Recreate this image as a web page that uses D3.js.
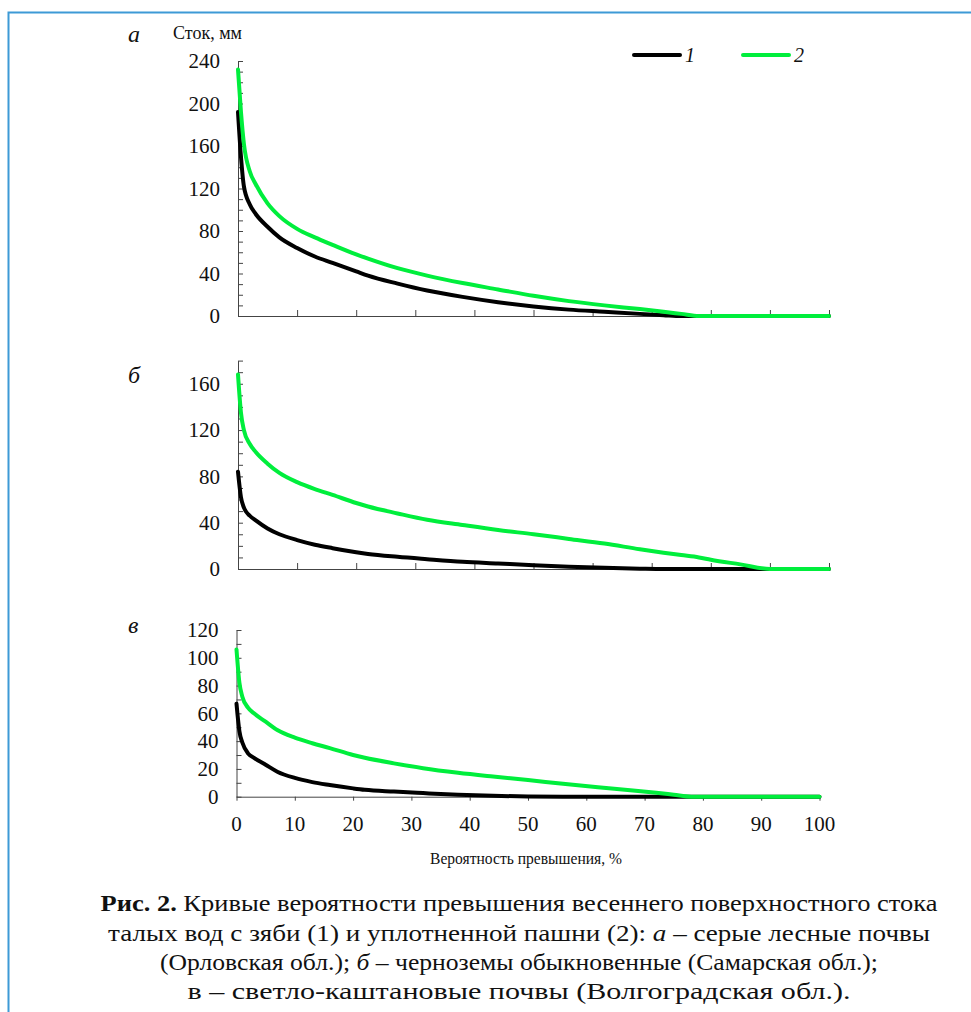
<!DOCTYPE html>
<html>
<head>
<meta charset="utf-8">
<script src="https://cdn.jsdelivr.net/npm/d3@7"></script>
<style>
  body { margin: 0; background: #fff; font-family: "Liberation Serif", serif; }
</style>
</head>
<body>
<svg id="chart" width="971" height="1012" font-family="Liberation Serif, serif"></svg>
<script>
// probability of exceedance, %
var prob = [0, 0.5, 1, 2, 3, 5, 7, 10, 13, 16, 20, 22, 27, 32, 38, 44, 50, 56, 62, 68, 72, 75, 78, 80, 85, 90, 100];

// а - серые лесные почвы
var runoffA1 = [192, 150, 122, 105, 96, 84, 74, 64, 56, 50, 42, 38, 30.5, 24, 18, 13, 9, 6, 4, 2, 0.8, 0, 0, 0, 0, 0, 0];
var runoffA2 = [232, 192, 162, 136, 124, 106, 94, 82, 74, 67, 58, 54, 45, 38, 31, 25, 19, 14, 10, 6.5, 4, 2, 0, 0, 0, 0, 0];
// б - черноземы обыкновенные
var runoffB1 = [84, 62, 53, 46, 42, 35, 30, 25, 21, 18, 14.5, 13, 10.5, 8.5, 6.3, 4.8, 3.3, 2, 1, 0.3, 0, 0, 0, 0, 0, 0, 0];
var runoffB2 = [168, 135, 120, 108, 101, 91, 83, 75, 69, 64, 57, 54, 48, 42.5, 38, 33.7, 30, 26, 22, 17, 14, 12, 10, 8, 4, 0, 0];
// в - светло-каштановые почвы
var runoffV1 = [67, 47, 39, 31, 28, 23, 18, 13.5, 10.5, 8.4, 6, 5, 3.7, 2.6, 1.4, 0.6, 0.2, 0, 0, 0, 0, 0, 0, 0, 0, 0, 0];
var runoffV2 = [106, 82, 72, 64, 60, 54, 48, 42.5, 38.5, 35, 30, 28, 24, 20.5, 17.2, 14.5, 12, 9.3, 6.8, 4.5, 2.8, 1.4, 0, 0, 0, 0, 0];

var seriesNames = ["1", "2"];
var xTicks = [0, 10, 20, 30, 40, 50, 60, 70, 80, 90, 100];

var colors = ["#000000", "#00ee3c"];
var serif = "Liberation Serif";

var svg = d3.select("#chart");

// frame (left and top edges only)
svg.append("path")
  .attr("d", "M8.5,1012 V12.5 H971")
  .attr("fill", "none")
  .attr("stroke", "#3d9ad6")
  .attr("stroke-width", 2);

function addText(parent) {
  return parent.append("text").attr("font-family", serif).attr("fill", "#111");
}

function drawPanel(cfg) {
  var x = d3.scaleLinear().domain([0, 100]).range([cfg.x0, cfg.x1]);
  var y = d3.scaleLinear().domain([0, cfg.ymax]).range([cfg.y0, cfg.y1]);
  var g = svg.append("g");

  // y axis with inward ticks every 10
  var yAxis = d3.axisRight(y)
    .tickValues(d3.range(0, cfg.ymax + 1, 10))
    .tickSize(5)
    .tickSizeOuter(0)
    .tickFormat("");
  var ya = g.append("g")
    .attr("transform", "translate(" + cfg.x0 + ",0)")
    .call(yAxis);
  ya.selectAll("path, line").attr("stroke", "#444");

  cfg.yLabels.forEach(function(d) {
    addText(g)
      .attr("x", cfg.x0 - 18)
      .attr("y", y(d))
      .attr("dy", "0.35em")
      .attr("text-anchor", "end")
      .attr("font-size", 21)
      .text(d);
  });

  // x axis
  var xAxis = cfg.labels ? d3.axisBottom(x).tickSize(4) : d3.axisTop(x).tickSize(6);
  xAxis.tickValues(xTicks).tickSizeOuter(0).tickFormat("");
  var xa = g.append("g")
    .attr("transform", "translate(0," + cfg.y0 + ")")
    .call(xAxis);
  xa.selectAll("path, line").attr("stroke", "#444");

  if (cfg.labels) {
    xTicks.forEach(function(d) {
      addText(g)
        .attr("x", x(d))
        .attr("y", cfg.y0 + 27)
        .attr("dy", "0.35em")
        .attr("text-anchor", "middle")
        .attr("font-size", 21)
        .text(d);
    });
  }

  var line = d3.line()
    .x(function(d, i) { return x(prob[i]); })
    .y(function(d) { return y(d); })
    .curve(d3.curveMonotoneX);

  cfg.series.forEach(function(s, i) {
    g.append("path")
      .attr("d", line(s))
      .attr("fill", "none")
      .attr("stroke", colors[i])
      .attr("stroke-width", 4)
      .attr("stroke-linecap", "round")
      .attr("stroke-linejoin", "round");
  });

  addText(g)
    .attr("x", 128)
    .attr("y", cfg.letterY)
    .attr("font-size", 24)
    .attr("font-style", "italic")
    .text(cfg.letter);
}

drawPanel({ x0: 238, x1: 829, y0: 316, y1: 61, ymax: 240, yLabels: [0, 40, 80, 120, 160, 200, 240],
  series: [runoffA1, runoffA2], letter: "а", letterY: 42, labels: false });
drawPanel({ x0: 238, x1: 829, y0: 569, y1: 360.6, ymax: 180, yLabels: [0, 40, 80, 120, 160],
  series: [runoffB1, runoffB2], letter: "б", letterY: 383, labels: false });
drawPanel({ x0: 236.5, x1: 819.5, y0: 796.7, y1: 630, ymax: 120, yLabels: [0, 20, 40, 60, 80, 100, 120],
  series: [runoffV1, runoffV2], letter: "в", letterY: 633, labels: true });

// y title
addText(svg)
  .attr("x", 173)
  .attr("y", 39)
  .attr("font-size", 18)
  .text("Сток, мм");

// x title
addText(svg)
  .attr("x", 526)
  .attr("y", 864)
  .attr("text-anchor", "middle")
  .attr("font-size", 17)
  .attr("textLength", 192)
  .attr("lengthAdjust", "spacingAndGlyphs")
  .text("Вероятность превышения, %");

// legend
var legend = svg.append("g");
seriesNames.forEach(function(name, i) {
  var lx = 634 + i * 109;
  legend.append("line")
    .attr("x1", lx).attr("x2", lx + 46)
    .attr("y1", 55).attr("y2", 55)
    .attr("stroke", colors[i])
    .attr("stroke-width", 4)
    .attr("stroke-linecap", "round");
  addText(legend)
    .attr("x", lx + 51)
    .attr("y", 62)
    .attr("font-size", 20)
    .attr("font-style", "italic")
    .text(name);
});

// caption
var cap = svg.append("g");
var l1 = addText(cap).attr("x", 519).attr("y", 911).attr("text-anchor", "middle").attr("font-size", 23)
  .attr("textLength", 837).attr("lengthAdjust", "spacingAndGlyphs");
l1.append("tspan").attr("font-weight", "bold").text("Рис. 2.");
l1.append("tspan").text(" Кривые вероятности превышения весеннего поверхностного стока");

var l2 = addText(cap).attr("x", 519).attr("y", 941).attr("text-anchor", "middle").attr("font-size", 23)
  .attr("textLength", 822).attr("lengthAdjust", "spacingAndGlyphs");
l2.append("tspan").text("талых вод с зяби (1) и уплотненной пашни (2): ");
l2.append("tspan").attr("font-style", "italic").text("а");
l2.append("tspan").text(" – серые лесные почвы");

var l3 = addText(cap).attr("x", 519).attr("y", 970).attr("text-anchor", "middle").attr("font-size", 23)
  .attr("textLength", 718).attr("lengthAdjust", "spacingAndGlyphs");
l3.append("tspan").text("(Орловская обл.); ");
l3.append("tspan").attr("font-style", "italic").text("б");
l3.append("tspan").text(" – черноземы обыкновенные (Самарская обл.);");

addText(cap).attr("x", 519).attr("y", 999).attr("text-anchor", "middle").attr("font-size", 23)
  .attr("textLength", 663).attr("lengthAdjust", "spacingAndGlyphs")
  .text("в – светло-каштановые почвы (Волгоградская обл.).");
</script>
</body>
</html>
